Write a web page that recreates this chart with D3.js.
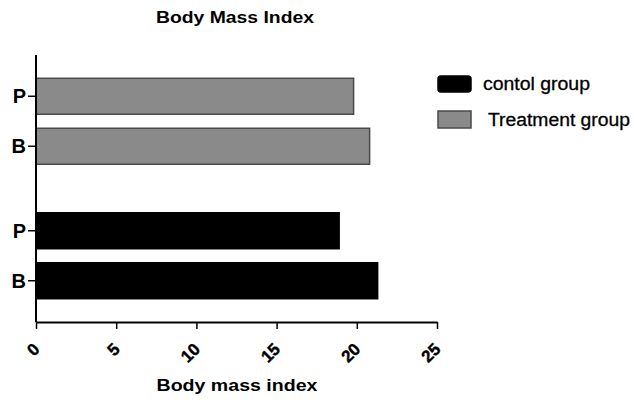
<!DOCTYPE html>
<html><head><meta charset="utf-8">
<script src="https://cdn.jsdelivr.net/npm/d3@7"></script>
<style>body{margin:0;background:#fff}text{font-family:"Liberation Sans",Arial,sans-serif}</style>
</head><body><svg id="c" width="634" height="403"></svg>
<script>
const groups = ["contol group", "Treatment group"];
const categories = ["B", "P"];
const controlValues = [21.3, 18.9];
const treatmentValues = [20.8, 19.8];
const xTicks = [0, 5, 10, 15, 20, 25];
const colors = ["#000000", "#8a8a8a"];
const strokes = ["#000000", "#4a4a4a"];

const data = [];
groups.forEach((g, gi) => categories.forEach((c, ci) => data.push({g, gi, c, v: gi === 0 ? controlValues[ci] : treatmentValues[ci]})));

const svg = d3.select("#c");
const x0 = 36, x1 = 437, yB = 322, yT = 55;
const x = d3.scaleLinear().domain([0, 25]).range([x0, x1]);
const outer = d3.scaleBand().domain(groups).range([yB, yT]).paddingInner(0.2565).paddingOuter(0.121);
const inner = d3.scaleBand().domain(categories).range([outer.bandwidth(), 0]).paddingInner(0.28).paddingOuter(0.14);

svg.append("g").selectAll("rect").data(data).join("rect")
  .attr("x", x(0))
  .attr("y", d => outer(d.g) + inner(d.c))
  .attr("width", d => x(d.v) - x(0))
  .attr("height", inner.bandwidth())
  .attr("fill", d => colors[d.gi])
  .attr("stroke", d => strokes[d.gi])
  .attr("stroke-width", 1.5);

// y axis
const yax = svg.append("g");
yax.append("line").attr("x1", x0).attr("x2", x0).attr("y1", yT).attr("y2", yB).attr("stroke", "#000").attr("stroke-width", 2);
data.forEach(d => {
  const yc = outer(d.g) + inner(d.c) + inner.bandwidth() / 2;
  yax.append("line").attr("x1", x0 - 8).attr("x2", x0).attr("y1", yc).attr("y2", yc).attr("stroke", "#000").attr("stroke-width", 1.5);
  yax.append("text").attr("x", x0 - 10).attr("y", yc).attr("dy", "0.36em").attr("text-anchor", "end")
    .attr("font-weight", "bold").attr("font-size", 20).text(d.c);
});

// x axis
const xa = svg.append("g").attr("transform", `translate(0,${yB})`)
  .call(d3.axisBottom(x).tickValues(xTicks).tickSize(7).tickSizeOuter(0).tickPadding(4));
xa.select(".domain").attr("stroke-width", 2);
xa.selectAll(".tick line").attr("stroke-width", 1.5);
xa.selectAll(".tick text").attr("font-size", 17).attr("font-weight", "bold")
  .attr("font-family", "Liberation Sans, Arial, sans-serif")
  .attr("text-anchor", "end").attr("y", 0).attr("dy", "0.35em")
  .attr("stroke", "#000").attr("stroke-width", 0.4)
  .attr("transform", "translate(0,24) rotate(-45)").attr("fill", "#000");

svg.append("text").attr("x", 235).attr("y", 23).attr("text-anchor", "middle")
  .attr("font-weight", "bold").attr("font-size", 16).attr("textLength", 158).attr("lengthAdjust", "spacingAndGlyphs").text("Body Mass Index");
svg.append("text").attr("x", 237).attr("y", 391).attr("text-anchor", "middle")
  .attr("font-weight", "bold").attr("font-size", 17).attr("textLength", 161).attr("lengthAdjust", "spacingAndGlyphs").text("Body mass index");

// legend
const lg = svg.append("g");
const legendTextX = [483, 488];
const legendTextLen = [107, 142];
groups.forEach((g, i) => {
  const ly = 76 + i * 35;
  lg.append("rect").attr("x", 438).attr("y", ly).attr("width", 33).attr("height", 16 + i).attr("rx", i === 0 ? 3 : 0)
    .attr("fill", colors[i]).attr("stroke", strokes[i]).attr("stroke-width", 1.5);
  lg.append("text").attr("x", legendTextX[i]).attr("y", 90 + i * 36)
    .attr("font-size", 18).attr("textLength", legendTextLen[i]).attr("lengthAdjust", "spacingAndGlyphs")
    .attr("stroke", "#000").attr("stroke-width", 0.3).text(g);
});
</script></body></html>
